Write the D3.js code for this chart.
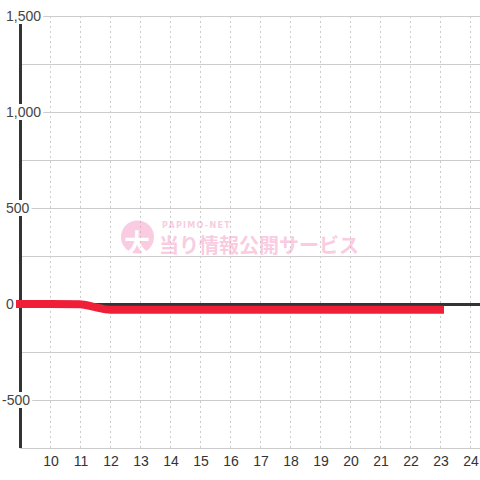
<!DOCTYPE html>
<html><head><meta charset="utf-8">
<script src="https://cdn.jsdelivr.net/npm/d3@7"></script>
<style>html,body{margin:0;padding:0;background:#fff}svg{display:block}</style>
</head><body>
<script>
const hours = [9, 10, 11, 11.5, 12, 13, 14, 15, 16, 17, 18, 19, 20, 21, 22, 23];
const values = [0, 0, -1, -16, -30, -30, -30, -30, -30, -30, -30, -30, -30, -30, -30, -30];
const xTicks = [10, 11, 12, 13, 14, 15, 16, 17, 18, 19, 20, 21, 22, 23, 24];
const yTicks = [1500, 1000, 500, 0, -500];
const yGrid = [1500, 1250, 1000, 750, 500, 250, 0, -250, -500, -750];

const W = 480, H = 480;
const svg = d3.select("body").append("svg").attr("width", W).attr("height", H);
svg.append("rect").attr("width", W).attr("height", H).attr("fill", "#fff");

const x = d3.scaleLinear().domain([9, 24 + 1/3]).range([20, 480]);
const y = d3.scaleLinear().domain([-750, 1500]).range([448, 16]);
const font = "'Liberation Sans', Arial, sans-serif";

// horizontal grid
svg.append("g").selectAll("line").data(yGrid).join("line")
  .attr("x1", 20).attr("x2", 480)
  .attr("y1", d => y(d) + 0.5).attr("y2", d => y(d) + 0.5)
  .attr("stroke", "#cccccc").attr("stroke-width", 1);

// vertical dashed grid
svg.append("g").selectAll("line").data(xTicks).join("line")
  .attr("x1", d => x(d) + 0.5).attr("x2", d => x(d) + 0.5)
  .attr("y1", y(1500)).attr("y2", y(-750))
  .attr("stroke", "#cccccc").attr("stroke-width", 1).attr("stroke-dasharray", "2,3");

// watermark
const wm = svg.append("g").attr("opacity", 0.5);
wm.append("circle").attr("cx", 137.5).attr("cy", 237).attr("r", 16.5).attr("fill", "#f59ac4");
wm.append("text").attr("x", 137).attr("y", 253).attr("text-anchor", "middle")
  .attr("font-family", "'Noto Sans CJK JP', sans-serif").attr("font-weight", "bold")
  .attr("font-size", 26).attr("fill", "#fff").text("大");
wm.append("text").attr("x", 162).attr("y", 228)
  .attr("font-family", "'DejaVu Sans', sans-serif").attr("font-weight", "bold")
  .attr("font-size", 8).attr("letter-spacing", 1.3).attr("fill", "#f59ac4").text("PAPIMO-NET");
wm.append("text").attr("x", 159).attr("y", 253)
  .attr("font-family", "'Noto Sans CJK JP', sans-serif").attr("font-weight", "bold")
  .attr("font-size", 20).attr("fill", "#f59ac4").text("当り情報公開サービス");

// y axis line
svg.append("line").attr("x1", 20.5).attr("x2", 20.5).attr("y1", y(1500)).attr("y2", y(-750))
  .attr("stroke", "#333").attr("stroke-width", 3);

// zero line
svg.append("line").attr("x1", 20).attr("x2", 480).attr("y1", y(0) + 0.5).attr("y2", y(0) + 0.5)
  .attr("stroke", "#333").attr("stroke-width", 3);

// data line
const data = hours.map((h, i) => ({h, v: values[i]}));
const line = d3.line().x(d => x(d.h)).y(d => y(d.v)).curve(d3.curveMonotoneX);
svg.append("path").datum(data).attr("d", line)
  .attr("fill", "none").attr("stroke", "#ee1f36").attr("stroke-width", 8)
  .attr("stroke-linecap", "square").attr("stroke-linejoin", "round");

// y labels with white background
const fmt = d => d3.format(",")(d).replace("\u2212", "-");
const yl = svg.append("g").selectAll("g").data(yTicks).join("g");
yl.each(function(d) {
  const g = d3.select(this);
  const t = g.append("text").attr("x", d < 0 ? 2 : 6).attr("y", y(d)).attr("dy", "0.36em")
    .attr("font-family", font).attr("font-size", 14).attr("fill", "#444")
    .text(fmt(d));
  const bb = t.node().getBBox();
  g.insert("rect", "text").attr("x", bb.x - 1).attr("y", y(d) - 8).attr("width", bb.width + 3)
    .attr("height", 16).attr("fill", "#fff");
});

// x labels
svg.append("g").selectAll("text").data(xTicks).join("text")
  .attr("x", d => x(d) + 1).attr("y", 466).attr("text-anchor", "middle")
  .attr("font-family", font).attr("font-size", 14).attr("fill", "#333")
  .text(d => d);
</script>
</body></html>
